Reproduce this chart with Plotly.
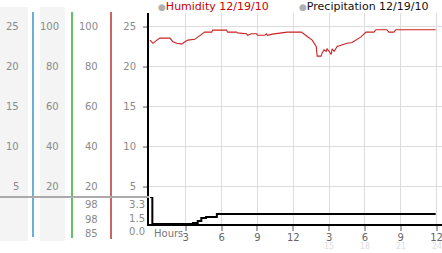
import plotly.graph_objects as go

# ---------------- data ----------------
hum_hours = [0, 0.25, 0.58, 0.83, 1.67, 1.92, 2.25, 2.67, 2.92, 3.17, 3.75, 4.17, 4.58, 5.17, 5.25,
             6.42, 6.5, 7.25, 7.33, 8.08, 8.17, 8.5, 8.92, 9.0, 9.58, 9.75, 9.83, 10.25, 11.42, 11.5,
             12.67, 12.75, 13.17, 13.58, 13.92, 14.0, 14.33, 14.42, 14.58, 14.75, 14.83, 15.0, 15.17,
             15.25, 15.42, 15.67, 16.08, 16.5, 16.92, 17.25, 17.67, 18.08, 18.75, 18.92, 19.83, 20.0,
             20.42, 20.58, 23.92]
humidity = [23.3, 22.9, 23.3, 23.55, 23.55, 23.1, 22.9, 22.8, 23.1, 23.3, 23.4, 23.85, 24.3, 24.3, 24.55,
            24.55, 24.3, 24.3, 24.2, 24.1, 23.9, 24.1, 24.1, 23.9, 23.9, 24.1, 23.9, 24.05, 24.2, 24.3,
            24.3, 24.2, 23.75, 23.3, 22.5, 21.3, 21.3, 21.7, 22.1, 21.9, 22.2, 21.9, 21.5,
            22.2, 21.9, 22.5, 22.7, 22.9, 23.0, 23.3, 23.7, 24.3, 24.3, 24.6, 24.6, 24.3,
            24.3, 24.6, 24.6]

precip_hours = [0, 0.12, 0.2, 3.5, 3.6, 4.0, 4.3, 4.7, 5.2, 5.6, 23.92]
precip = [3.3, 3.3, 0.0, 0.0, 0.12, 0.37, 0.73, 0.85, 0.85, 1.22, 1.22]

hum_ticks = [5, 10, 15, 20, 25]
pct_ticks = [20, 40, 60, 80, 100]
precip_ticks = [0.0, 1.5, 3.3]
precip_ticktext = ["0.0", "1.5", "3.3"]
col3_bottom = ["98", "98", "85"]
hour_ticks = [3, 6, 9, 12, 15, 18, 21, 24]
hour_ticktext = ["3", "6", "9", "12", "3", "6", "9", "12"]
hour_faint = [15, 18, 21, 24]

W, H = 442, 253
L, R, T, B = 149, 0, 13, 29
PW, PH = W - L - R, H - T - B


def px2x(px):
    return (px - L) / PW


def px2y(py):
    return (H - B - py) / PH


split = px2y(197)
FONT = "DejaVu Sans"
GRAY = "#8a8a8a"

fig = go.Figure()
fig.add_trace(go.Scatter(x=hum_hours, y=humidity, mode="lines", line=dict(color="#cc2222", width=1.1),
                         xaxis="x", yaxis="y", showlegend=False, hoverinfo="skip"))
fig.add_trace(go.Scatter(x=precip_hours, y=precip, mode="lines", line=dict(color="#000000", width=2, shape="hv"),
                         xaxis="x2", yaxis="y2", showlegend=False, hoverinfo="skip"))

shapes = []
# gray column backgrounds
for x0, x1 in [(0, 28), (40, 65)]:
    shapes.append(dict(type="rect", xref="paper", yref="paper", x0=px2x(x0), x1=px2x(x1),
                       y0=px2y(241), y1=px2y(7), fillcolor="#f4f4f4", line=dict(width=0), layer="below"))
# colored vertical lines
for xp, col, yb in [(33, "#3399cc", 237), (72, "#33aa33", 238), (111, "#bb3333", 239)]:
    shapes.append(dict(type="line", xref="paper", yref="paper", x0=px2x(xp), x1=px2x(xp),
                       y0=px2y(yb), y1=px2y(12), line=dict(color=col, width=1.5)))
# separator
shapes.append(dict(type="line", xref="paper", yref="paper", x0=px2x(0), x1=0,
                   y0=split, y1=split, line=dict(color="#aaaaaa", width=2)))

ann = []
tf = dict(family=FONT, size=10, color=GRAY)
for v, p in zip(hum_ticks, pct_ticks):
    ann.append(dict(xref="paper", yref="y", x=px2x(21), y=v, text=str(v), showarrow=False,
                    xanchor="right", yanchor="middle", font=tf))
    ann.append(dict(xref="paper", yref="y", x=px2x(61), y=p / 4, text=str(p), showarrow=False,
                    xanchor="right", yanchor="middle", font=tf))
    ann.append(dict(xref="paper", yref="y", x=px2x(100), y=p / 4, text=str(p), showarrow=False,
                    xanchor="right", yanchor="middle", font=tf))
for t, py in zip(col3_bottom, [204, 219, 233]):
    ann.append(dict(xref="paper", yref="paper", x=px2x(100), y=px2y(py), text=t, showarrow=False,
                    xanchor="right", yanchor="middle", font=tf))
for h in hour_faint:
    ann.append(dict(xref="x2", yref="paper", x=h, y=px2y(246), text=str(h), showarrow=False,
                    xanchor="center", yanchor="middle", font=dict(family=FONT, size=8, color="#dddddd")))
ann.append(dict(xref="paper", yref="paper", x=px2x(152), y=px2y(233), text="Hours", showarrow=False,
                xanchor="left", yanchor="middle", font=dict(family=FONT, size=10, color="#777777")))
# legend
ann.append(dict(xref="paper", yref="paper", x=px2x(156), y=px2y(7), showarrow=False, xanchor="left",
                yanchor="middle", text="<span style='color:#b0b0b0;font-size:9px'>●</span>Humidity 12/19/10",
                font=dict(family=FONT, size=11, color="#cc0000")))
ann.append(dict(xref="paper", yref="paper", x=px2x(297), y=px2y(7), showarrow=False, xanchor="left",
                yanchor="middle", text="<span style='color:#b0b0b0;font-size:9px'>●</span>Precipitation 12/19/10",
                font=dict(family=FONT, size=11, color="#111111")))

xr = [-0.08, 24.45]
fig.update_layout(
    width=W, height=H, margin=dict(l=L, r=R, t=T, b=B), paper_bgcolor="white", plot_bgcolor="white",
    showlegend=False, shapes=shapes, annotations=ann,
    xaxis=dict(domain=[0, 1], anchor="y", range=xr, tickvals=hour_ticks, showticklabels=False,
               showgrid=True, gridcolor="#dddddd", gridwidth=1, zeroline=False, showline=False, ticks=""),
    xaxis2=dict(domain=[0, 1], anchor="y2", range=xr, matches="x", tickvals=hour_ticks, ticktext=hour_ticktext,
                showgrid=True, gridcolor="#dddddd", zeroline=False, showline=True, linecolor="black", linewidth=2,
                ticks="outside", ticklen=5, tickwidth=2, tickcolor="#aaaaaa", ticklabelstandoff=-2,
                ticklabeloverflow="allow",
                tickfont=dict(family=FONT, size=10, color="#666666")),
    yaxis=dict(domain=[split, 1], anchor="x", range=[3.69, 26.69], tickvals=hum_ticks,
               showgrid=True, gridcolor="#dddddd", zeroline=False, showline=True, linecolor="black", linewidth=2,
               ticks="outside", ticklen=4, tickwidth=2, tickcolor="#aaaaaa", ticklabelstandoff=5, tickfont=tf),
    yaxis2=dict(domain=[0, split], anchor="x2", range=[0, 3.3], tickvals=precip_ticks, ticktext=precip_ticktext,
                showgrid=False, zeroline=False, showline=True, linecolor="black", linewidth=2,
                ticks="", ticklabelshift=7, tickfont=tf),
)

fig.write_html("out.html")
